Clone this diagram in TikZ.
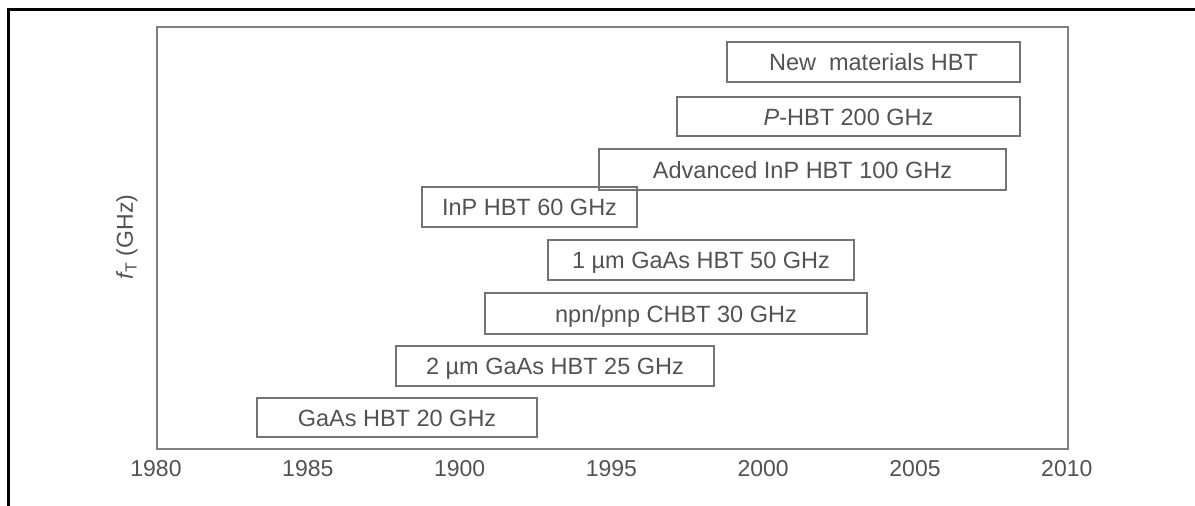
\documentclass[tikz,border=0pt]{standalone}
\usepackage{fontspec}
\setmainfont{Liberation Sans}
\begin{document}
\begin{tikzpicture}[x=1pt, y=-1pt,
    barbox/.style={draw=black!55, line width=1.6pt, text=black!68, inner sep=0pt,
      text height=17pt, text depth=0pt, font=\fontsize{23.5}{26}\selectfont},
    yearlbl/.style={text=black!68, inner sep=0pt, font=\fontsize{23}{26}\selectfont}]
  \useasboundingbox (0,0) rectangle (1195,506);

  % Outer frame (runs off to the right and below)
  \draw[line width=3pt] (8.5,506) -- (8.5,9.5) -- (1195,9.5);

  % Plot frame
  \draw[black!50, line width=1.8pt] (157,27) rectangle (1068,449);

  % Technology bars (left/right/top/bottom in px)
  \foreach \l/\r/\t/\b/\id/\txt in {
      727/1020/42/82/newmat/{New\ \ materials HBT},
      677/1020/97/136/phbt/{{\itshape P}-HBT 200 GHz},
      599/1006/149/190/advinp/{Advanced InP HBT 100 GHz},
      422/637/187/227/inp/{InP HBT 60 GHz},
      548/854/240/280/gaasone/{1 µm GaAs HBT 50 GHz},
      485/867/293/334/chbt/{npn/pnp CHBT 30 GHz},
      396/714/346/386/gaastwo/{2 µm GaAs HBT 25 GHz},
      257/537/398/437/gaas/{GaAs HBT 20 GHz}} {
    \node[barbox, minimum width={(\r-\l)*1pt}, minimum height={(\b-\t)*1pt}]
      (\id) at ({(\l+\r)/2},{(\t+\b)/2}) {\txt};
  }

  % Year labels (spacing as printed, 1900 included)
  \foreach \yr [count=\i from 0] in {1980,1985,1900,1995,2000,2005,2010} {
    \node[yearlbl] (yr\i) at ({156+151.8*\i},469) {\yr};
  }

  % Axis caption
  \node[yearlbl, rotate=90] (ylab) at (127,237) {{\itshape f}\textsubscript{T} (GHz)};
\end{tikzpicture}
\end{document}
